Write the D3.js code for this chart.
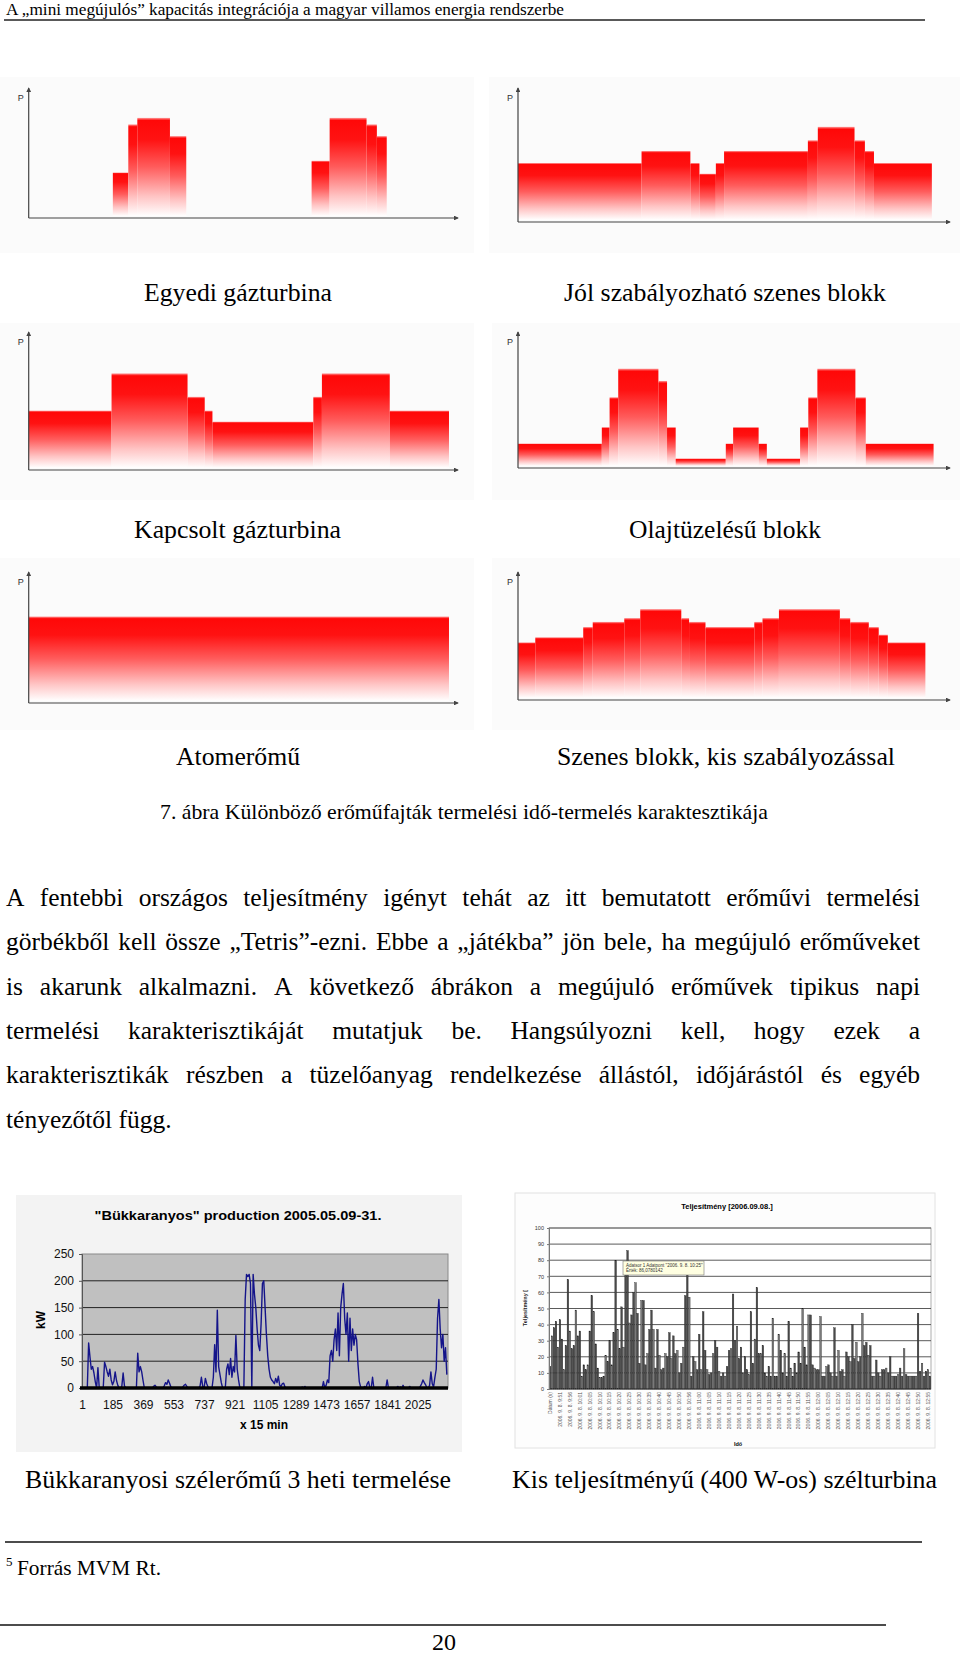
<!DOCTYPE html>
<html><head><meta charset="utf-8">
<script src="https://cdn.jsdelivr.net/npm/d3@7"></script>
<style>body{margin:0;background:#fff}</style>
</head><body>
<svg id="page" width="960" height="1655"></svg>
<script>
// ---------------- DATA ----------------
const headerText = "A „mini megújulós” kapacitás integrációja a magyar villamos energia rendszerbe";

// schematic step charts: edges in % of time axis, levels in % of P axis
const gtEdges = [19.6,23.2,25.3,32.9,36.7,65.9,70.1,78.7,81.1,83.4];
const gtLevels = [35,72,77,63,null,44,77,72,63];
const coalEdges = [0,28.6,39.9,42.0,45.8,47.7,67.1,69.4,77.9,80.3,82.4,95.8];
const coalLevels = [44,53,44,36,44,53,61,71,61,53,44];
const ccgtEdges = [0,19.3,37.0,41.0,42.8,66.3,68.3,84.1,97.9];
const ccgtLevels = [43,70,53,43,35,53,70,43];
const oilEdges = [0,19.4,21.2,23.2,32.5,34.5,36.5,48.1,49.8,55.7,57.6,65.3,67.2,69.3,78.1,80.5,96.2];
const oilLevels = [18,30,52,73,64,30,7,18,30,18,7,30,52,73,52,18];
const nuclearEdges = [0,97.9];
const nuclearLevels = [66];
const baseEdges = [0,4.0,15.1,17.3,24.6,28.3,37.8,39.6,43.4,54.7,56.6,60.4,74.5,76.9,81.2,83.5,85.6,94.3];
const baseLevels = [45,49,57,61,64,71,64,61,57,61,64,71,64,61,57,51,45];
const schematicCaptions = ["Egyedi gázturbina","Jól szabályozható szenes blokk","Kapcsolt gázturbina","Olajtüzelésű blokk","Atomerőmű","Szenes blokk, kis szabályozással"];
const figureCaption = "7. ábra  Különböző erőműfajták termelési idő-termelés karaktesztikája";

const bodyLines = [
 "A fentebbi országos teljesítmény igényt tehát az itt bemutatott erőművi termelési",
 "görbékből kell össze „Tetris”-ezni. Ebbe a „játékba” jön bele, ha megújuló erőműveket",
 "is akarunk alkalmazni. A következő ábrákon a megújuló erőművek tipikus napi",
 "termelési karakterisztikáját mutatjuk be. Hangsúlyozni kell, hogy ezek a",
 "karakterisztikák részben a tüzelőanyag rendelkezése állástól, időjárástól és egyéb",
 "tényezőtől függ."
];

// wind farm (kW), one reading every 8th quarter-hour sample
const windTitle = "\"Bükkaranyos\" production 2005.05.09-31.";
const windSampleStep = 8;
const windSamples = 2208;
const windKW = [
 0,0,0,0,0,84,58,35,40,28,12,0,38,0,0,0,0,48,40,30,
 22,35,15,6,12,30,14,5,0,0,3,28,4,0,0,0,0,0,0,0,
 0,0,65,30,40,30,14,0,0,0,0,0,0,0,3,5,2,0,0,0,
 0,0,4,10,7,15,9,2,0,0,0,0,0,0,0,0,2,5,7,3,
 0,0,0,0,0,0,0,0,0,4,20,3,0,18,8,2,0,0,0,20,
 81,30,145,40,25,10,0,0,0,35,45,25,55,20,40,30,98,35,15,0,
 0,0,0,165,212,208,212,195,0,212,175,150,110,80,70,120,195,200,150,100,
 60,35,20,15,12,8,18,10,22,5,3,8,9,2,0,0,0,0,0,0,
 0,0,0,0,0,0,2,0,3,0,0,0,0,0,0,0,0,0,0,0,
 0,0,12,0,5,15,10,60,70,50,90,110,70,140,60,150,175,195,130,100,
 140,50,130,70,110,80,100,90,45,12,2,0,0,3,0,8,12,0,0,20,
 0,0,0,0,0,0,0,0,0,0,15,0,0,0,0,0,0,0,3,0,
 2,0,5,0,0,0,0,3,0,0,0,0,0,0,0,3,8,15,10,6,
 0,0,5,30,8,2,20,35,130,165,110,75,100,50,75,25
];
const windXTicks = [1,185,369,553,737,921,1105,1289,1473,1657,1841,2025];
const windYTicks = [0,50,100,150,200,250];
const windYLabel = "kW";
const windXLabel = "x 15 min";

// small (400 W) turbine bars
const smallTitle = "Teljesítmény [2006.09.08.]";
const smallPower = [
 14,33,38,42,26,43,31,12,27,68, 36,25,27,49,33,36,8,15,12,15,
 36,58,48,28,13,7,7,8,21,17, 30,15,35,80,37,25,51,26,73,86,
 41,46,60,66,47,16,55,55,15,22, 37,49,37,13,37,21,12,13,22,20,
 35,19,33,22,24,10,16,26,58,72, 57,8,20,17,12,34,12,48,24,12,
 9,10,22,30,26,11,8,10,8,14, 24,25,59,30,39,19,26,10,20,12,
 9,48,16,31,63,22,22,27,10,8, 14,8,44,8,8,34,24,10,22,8,
 42,13,8,16,10,23,16,50,26,15, 46,46,15,13,12,12,45,8,8,14,
 15,10,8,38,8,24,11,12,8,23, 20,17,40,19,29,17,20,47,27,29,
 21,27,8,8,18,10,8,12,12,13, 10,20,8,8,8,9,13,8,25,9,
 8,8,8,8,8,47,11,16,8,11, 12,8
];
const smallTimes = ["9:51","9:56","10:01","10:05","10:10","10:15","10:20","10:25","10:30","10:35","10:40","10:45","10:50","10:56","11:00","11:05","11:10","11:15","11:20","11:25","11:30","11:35","11:40","11:45","11:50","11:55","12:00","12:05","12:10","12:15","12:20","12:25","12:30","12:35","12:40","12:45","12:50","12:55"];
const smallLabels = ["Dátum (s)"].concat(smallTimes.map(t => "2006. 9. 8. " + t));
const smallYTicks = [0,10,20,30,40,50,60,70,80,90,100];
const smallYLabel = "Teljesítmény [";
const smallXLabel = "Idő";
const tooltipLines = ["Adatsor 1 Adatpont \"2006. 9. 8. 10:25\"", "Érték: 86,0780142"];
const windCaptions = ["Bükkaranyosi szélerőmű 3 heti termelése","Kis teljesítményű (400 W-os) szélturbina"];
const footnoteMark = "5";
const footnoteText = "Forrás MVM Rt.";
const pageNumber = "20";

// ---------------- RENDER ----------------
const svg = d3.select("#page");
svg.append("rect").attr("width",960).attr("height",1655).attr("fill","#fff");
const SERIF = "'Liberation Serif','Times New Roman',serif";
const SANS = "'Liberation Sans',Arial,sans-serif";

function fitText(x, y, str, size, width, anchor, family, weight) {
  const t = svg.append("text").attr("x", x).attr("y", y).text(str)
    .attr("font-family", family || SERIF).attr("font-size", size)
    .attr("font-weight", weight || "normal").attr("fill", "#000")
    .attr("text-anchor", anchor || "start");
  if (width) t.attr("textLength", width).attr("lengthAdjust", "spacingAndGlyphs");
  return t;
}

// header
fitText(6, 15, headerText, 16, 558);
svg.append("line").attr("x1",4).attr("x2",925).attr("y1",20).attr("y2",20).attr("stroke","#222").attr("stroke-width",1.6);

// gradient
const defs = svg.append("defs");
const grad = defs.append("linearGradient").attr("id","redfade").attr("x1",0).attr("y1",0).attr("x2",0).attr("y2",1);
[[0,"#ff9a9a"],[0.025,"#ff0808"],[0.22,"#ff1212"],[0.5,"#ff5c5c"],[0.8,"#ffc4c4"],[1,"#ffffff"]]
  .forEach(([o,c]) => grad.append("stop").attr("offset",o).attr("stop-color",c));
const arrow = defs.append("marker").attr("id","arr").attr("viewBox","0 0 6 6").attr("refX",5).attr("refY",3)
  .attr("markerWidth",4).attr("markerHeight",4).attr("orient","auto");
arrow.append("path").attr("d","M0,0L6,3L0,6Z").attr("fill","#444");

const schematicData = [
  {edges:gtEdges, levels:gtLevels},
  {edges:coalEdges, levels:coalLevels},
  {edges:ccgtEdges, levels:ccgtLevels},
  {edges:oilEdges, levels:oilLevels},
  {edges:nuclearEdges, levels:nuclearLevels},
  {edges:baseEdges, levels:baseLevels}
];
const schematicLayout = [
  {x0:28.7,x1:458,y0:218,top:88, bg:[0,77,474,176], cap:[144,301,188]},
  {x0:518,x1:950,y0:222,top:88, bg:[489,77,471,176], cap:[564,301,322]},
  {x0:28.7,x1:458,y0:470,top:332, bg:[0,323,474,177], cap:[134,538,207]},
  {x0:518,x1:950,y0:468,top:332, bg:[492,323,468,177], cap:[629,538,192]},
  {x0:28.7,x1:458,y0:703,top:572, bg:[0,558,474,172], cap:[176,765,124]},
  {x0:518,x1:950,y0:700,top:572, bg:[492,558,468,172], cap:[557,765,338]}
];

schematicData.forEach((d, i) => {
  const L = schematicLayout[i];
  const g = svg.append("g");
  g.append("rect").attr("x",L.bg[0]).attr("y",L.bg[1]).attr("width",L.bg[2]).attr("height",L.bg[3]).attr("fill","#fbfbfb");
  const x = d3.scaleLinear([0,100],[L.x0, L.x1]);
  const y = d3.scaleLinear([0,100],[L.y0, L.top]);
  const segs = d.levels.map((v,k) => ({a:d.edges[k], b:d.edges[k+1], v})).filter(s => s.v != null);
  g.selectAll("rect.step").data(segs).join("rect").attr("class","step")
    .attr("x", s => x(s.a)).attr("width", s => x(s.b) - x(s.a))
    .attr("y", s => y(s.v)).attr("height", s => y(1.5) - y(s.v))
    .attr("fill","url(#redfade)");
  g.append("line").attr("x1",L.x0).attr("x2",L.x0).attr("y1",L.y0).attr("y2",L.top)
    .attr("stroke","#444").attr("stroke-width",1.2).attr("marker-end","url(#arr)");
  g.append("line").attr("x1",L.x0).attr("x2",L.x1).attr("y1",L.y0).attr("y2",L.y0)
    .attr("stroke","#444").attr("stroke-width",1.2).attr("marker-end","url(#arr)");
  g.append("text").attr("x", L.x0 - 11).attr("y", L.top + 13).text("P")
    .attr("font-family", SANS).attr("font-size", 9).attr("fill","#333");
  fitText(L.cap[0], L.cap[1], schematicCaptions[i], 25, L.cap[2]);
});

fitText(160, 819, figureCaption, 21, 608);

// body paragraph (justified)
bodyLines.forEach((line, i) => {
  const y = 906 + i * 44.3;
  const words = line.split(" ");
  const t = svg.append("text").attr("y", y).attr("font-family", SERIF).attr("font-size", 25.5).attr("fill","#000");
  const spans = words.map(w => t.append("tspan").text(w));
  const widths = spans.map(s => s.node().getComputedTextLength());
  const total = d3.sum(widths);
  const last = i === bodyLines.length - 1;
  let gap = last ? 6.4 : (920 - 6 - total) / (words.length - 1);
  if (gap < 3) { gap = 3; }
  let xx = 6;
  spans.forEach((s, k) => { s.attr("x", xx); xx += widths[k] + gap; });
  if (!last && gap === 3) t.attr("textLength", 914).attr("lengthAdjust","spacingAndGlyphs");
});

// ---------------- wind chart ----------------
{
  const g = svg.append("g");
  g.append("rect").attr("x",16).attr("y",1195).attr("width",446).attr("height",257).attr("fill","#f3f3f3");
  const x = d3.scaleLinear([1, windSamples], [82, 448]);
  const y = d3.scaleLinear([0, 250], [1388, 1254]);
  g.append("rect").attr("x",82).attr("y",1254).attr("width",366).attr("height",134).attr("fill","#c0c0c0")
    .attr("stroke","#8a8a8a").attr("stroke-width",1);
  g.selectAll("line.grid").data(windYTicks.filter(v => v > 0 && v < 250)).join("line").attr("class","grid")
    .attr("x1",82).attr("x2",448).attr("y1",v=>y(v)).attr("y2",v=>y(v)).attr("stroke","#222").attr("stroke-width",1);
  const yAxis = d3.axisLeft(y).tickValues(windYTicks).tickSize(3).tickPadding(5);
  const ya = g.append("g").attr("transform","translate(82,0)").call(yAxis);
  ya.select(".domain").attr("stroke","#555");
  ya.selectAll("text").attr("font-family",SANS).attr("font-size",12).attr("fill","#111");
  ya.selectAll(".tick line").attr("stroke","#555");
  const pts = windKW.map((v,k) => [1 + k*windSampleStep, v]);
  g.append("path").datum(pts)
    .attr("d", d3.line().x(p => x(p[0])).y(p => y(p[1])))
    .attr("fill","none").attr("stroke","#14148a").attr("stroke-width",1.4).attr("stroke-linejoin","round");
  g.append("line").attr("x1",80).attr("x2",448).attr("y1",y(0)).attr("y2",y(0)).attr("stroke","#000").attr("stroke-width",3.5);
  const xAxis = d3.axisBottom(x).tickValues(windXTicks).tickFormat(d3.format("d")).tickSize(0).tickPadding(12);
  const xa = g.append("g").attr("transform",`translate(0,${y(0)})`).call(xAxis);
  xa.select(".domain").remove();
  xa.selectAll("text").attr("font-family",SANS).attr("font-size",12).attr("fill","#111");
  fitText(238, 1220, windTitle, 13.5, 287, "middle", SANS, "bold");
  fitText(264, 1429, windXLabel, 12, null, "middle", SANS, "bold");
  g.append("text").attr("transform","translate(45,1320) rotate(-90)").attr("text-anchor","middle")
    .attr("font-family",SANS).attr("font-weight","bold").attr("font-size",12).text(windYLabel);
}

// ---------------- small turbine bar chart ----------------
{
  const g = svg.append("g");
  g.append("rect").attr("x",515).attr("y",1193).attr("width",420).attr("height",255).attr("fill","#fdfdfd").attr("stroke","#e2e2e2");
  const x = d3.scaleBand().domain(d3.range(smallPower.length)).range([549, 931]).paddingInner(0.18).paddingOuter(0.1);
  const y = d3.scaleLinear([0,100],[1389,1228]);
  g.append("rect").attr("x",549).attr("y",1228).attr("width",382).attr("height",161).attr("fill","#fff").attr("stroke","#9a9a9a").attr("stroke-width",0.8);
  g.selectAll("line.grid").data(smallYTicks.filter(v=>v>0)).join("line").attr("class","grid")
    .attr("x1",549).attr("x2",931).attr("y1",v=>y(v)).attr("y2",v=>y(v)).attr("stroke","#5a5a5a").attr("stroke-width",1);
  g.selectAll("rect.bar").data(smallPower).join("rect").attr("class","bar")
    .attr("x",(d,i)=>x(i)).attr("width",x.bandwidth()).attr("y",d=>y(d)).attr("height",d=>y(0)-y(d))
    .attr("fill",(d,i)=> i%3===1 ? "#7a7a7a" : "#4a4a4a").attr("stroke","#1e1e1e").attr("stroke-width",0.35);
  g.append("line").attr("x1",549).attr("x2",931).attr("y1",y(0)).attr("y2",y(0)).attr("stroke","#333").attr("stroke-width",1);
  const ya = g.append("g").attr("transform","translate(549,0)").call(d3.axisLeft(y).tickValues(smallYTicks).tickSize(2).tickPadding(3));
  ya.select(".domain").attr("stroke","#777");
  ya.selectAll(".tick line").attr("stroke","#777");
  ya.selectAll("text").attr("font-family",SANS).attr("font-size",5.5).attr("fill","#333");
  g.selectAll("text.xl").data(smallLabels).join("text").attr("class","xl")
    .attr("transform",(d,i)=>`translate(${x(Math.min(i*5, smallPower.length-1)) + x.bandwidth()/2 + 1.8},1392) rotate(-90)`)
    .attr("text-anchor","end").attr("font-family",SANS).attr("font-size",5).attr("fill","#555").text(d=>d);
  fitText(727, 1209, smallTitle, 7.5, null, "middle", SANS, "bold");
  g.append("text").attr("transform","translate(527,1308) rotate(-90)").attr("text-anchor","middle")
    .attr("font-family",SANS).attr("font-weight","bold").attr("font-size",5.5).attr("fill","#222").text(smallYLabel);
  fitText(738, 1446, smallXLabel, 5.5, null, "middle", SANS, "bold");
  g.append("rect").attr("x",623).attr("y",1261).attr("width",81).attr("height",14).attr("fill","#ffffe1").attr("stroke","#777").attr("stroke-width",0.6);
  tooltipLines.forEach((s,i)=> g.append("text").attr("x",626).attr("y",1266.5 + i*5.5).attr("font-family",SANS)
    .attr("font-size",4.5).attr("fill","#333").text(s));
}

// captions under wind charts
fitText(25, 1488, windCaptions[0], 25, 426);
fitText(512, 1488, windCaptions[1], 25, 425);

// footnote
svg.append("line").attr("x1",5).attr("x2",922).attr("y1",1542).attr("y2",1542).attr("stroke","#111").attr("stroke-width",1.4);
svg.append("text").attr("x",6).attr("y",1566).attr("font-family",SERIF).attr("font-size",13).text(footnoteMark);
fitText(17, 1575, footnoteText, 21, 144);
svg.append("line").attr("x1",0).attr("x2",886).attr("y1",1625).attr("y2",1625).attr("stroke","#111").attr("stroke-width",1.4);
fitText(444, 1650, pageNumber, 24, null, "middle");
</script>
</body></html>
